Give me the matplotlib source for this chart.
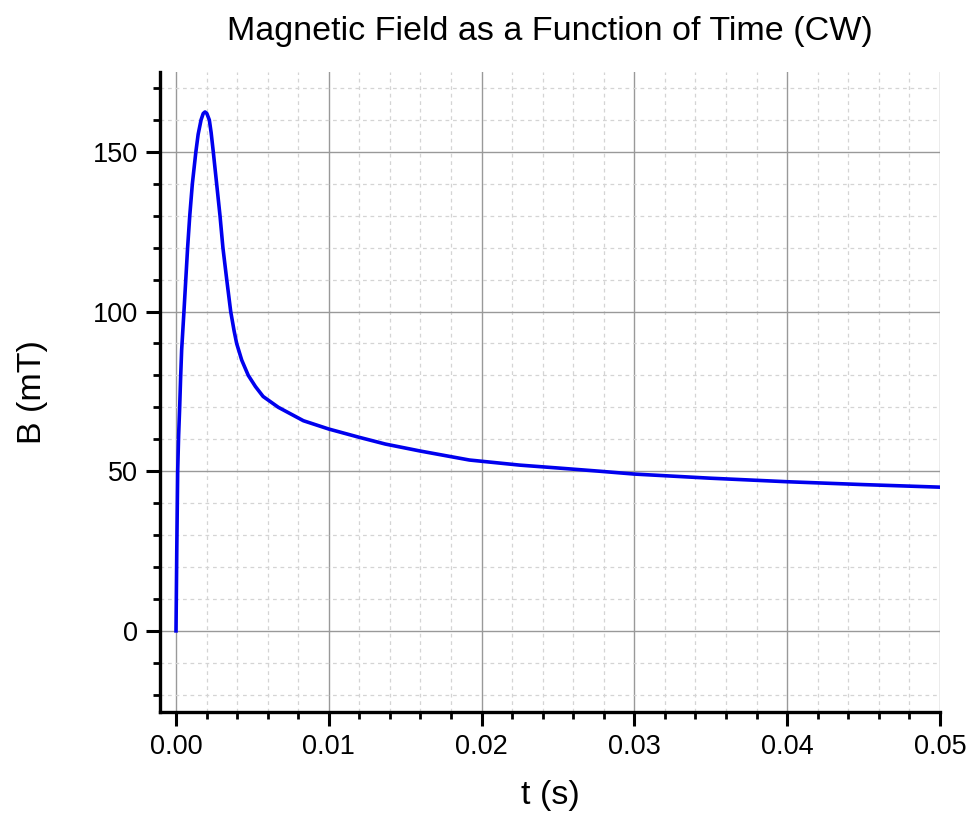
import matplotlib
matplotlib.use('Agg')
import matplotlib.pyplot as plt
from matplotlib.ticker import MultipleLocator
import numpy as np

# values
t = [0, 0.00005, 0.00011, 0.00017, 0.00024, 0.0003, 0.00037, 0.00052, 0.00064,
     0.00076, 0.0009, 0.00107, 0.0013, 0.00145, 0.00164, 0.00178, 0.0019,
     0.00202, 0.00218, 0.0023, 0.00244, 0.00266, 0.00288, 0.00307, 0.00332,
     0.00358, 0.0038, 0.00397, 0.0043, 0.00473, 0.0052, 0.0057, 0.0067,
     0.00834, 0.01, 0.012, 0.0137, 0.016, 0.0192, 0.0225, 0.025, 0.0277,
     0.03, 0.035, 0.04, 0.045, 0.05]
B = [0, 25, 50, 61, 70, 79, 88, 100, 110,
     120, 130, 140, 150, 155.5, 160, 162, 162.5,
     162, 160, 156, 150, 140, 130, 120, 110,
     100, 94, 90, 84.8, 80, 76.5, 73.4, 70,
     65.8, 63.2, 60.6, 58.5, 56.3, 53.5, 51.9, 51, 50,
     49.1, 47.8, 46.7, 45.8, 45]

plt.rcParams['font.family'] = ['Liberation Sans', 'DejaVu Sans']

fig = plt.figure(figsize=(9.73, 8.23), dpi=100)
ax = fig.add_axes([0.1644, 0.1349, 0.966 - 0.1644, 0.9125 - 0.1349])

ax.plot(t, B, color='#0000ee', lw=2.6, zorder=3, solid_joinstyle='round')

ax.set_xlim(-0.00105, 0.05)
ax.set_ylim(-25.4, 175)

ax.xaxis.set_major_locator(MultipleLocator(0.01))
ax.xaxis.set_minor_locator(MultipleLocator(0.002))
ax.yaxis.set_major_locator(MultipleLocator(50))
ax.yaxis.set_minor_locator(MultipleLocator(10))
ax.xaxis.set_major_formatter(plt.FuncFormatter(lambda v, p: '%.2f' % v))

ax.grid(which='major', color='#999999', lw=1.0, ls='-')
ax.grid(which='minor', color='#d4d4d4', lw=0.9, ls=(0, (3, 3)))
ax.set_axisbelow(True)

for s in ['top', 'right']:
    ax.spines[s].set_visible(False)
for s in ['left', 'bottom']:
    ax.spines[s].set_linewidth(2.4)

ax.tick_params(which='major', direction='out', length=10, width=2.2, labelsize=19.5, pad=6)
ax.tick_params(which='minor', direction='out', length=5, width=2.0)

ax.set_title('Magnetic Field as a Function of Time (CW)', fontsize=24.5, pad=23)
ax.set_xlabel('t (s)', fontsize=24.5, labelpad=14)
ax.set_ylabel('B (mT)', fontsize=24.5, labelpad=32)

fig.savefig('out.png', dpi=100)
